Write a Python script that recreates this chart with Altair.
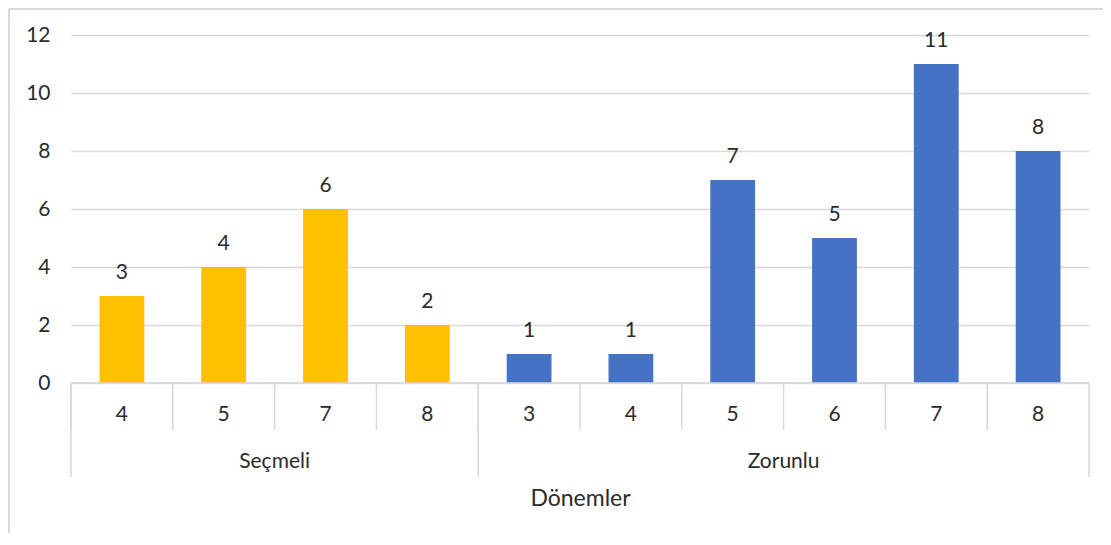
import altair as alt
import pandas as pd

groups = ["Seçmeli", "Seçmeli", "Seçmeli", "Seçmeli",
          "Zorunlu", "Zorunlu", "Zorunlu", "Zorunlu", "Zorunlu", "Zorunlu"]
terms = ["4", "5", "7", "8", "3", "4", "5", "6", "7", "8"]
counts = [3, 4, 6, 2, 1, 1, 7, 5, 11, 8]
group_colors = {"Seçmeli": "#FFC000", "Zorunlu": "#4472C4"}
y_ticks = [0, 2, 4, 6, 8, 10, 12]

keys = [f"{g}|{t}" for g, t in zip(groups, terms)]
df = pd.DataFrame({"group": groups, "term": terms, "count": counts, "key": keys})

# group starts / middles / end
group_order = list(dict.fromkeys(groups))
starts, mids = [], []
for g in group_order:
    gk = [k for k, gg in zip(keys, groups) if gg == g]
    starts.append(gk[0])
    mids.append({"group": g, "key": gk[len(gk) // 2]})
starts_df = pd.DataFrame({"key": starts})
mids_df = pd.DataFrame(mids)
end_df = pd.DataFrame({"key": [keys[-1]]})

W, H = 1018, 348
FONT = "Lato"
TXT = "#2b2b2b"
GRID = "#D9D9D9"

xscale = alt.Scale(domain=keys, paddingInner=0, paddingOuter=0)
yscale = alt.Scale(domain=[0, 12])

bars = alt.Chart(df).mark_bar(width=alt.RelativeBandSize(0.44)).encode(
    x=alt.X("key:N", scale=xscale, sort=keys,
            axis=alt.Axis(labels=False, ticks=False, domain=False, title="Dönemler",
                          titleY=115, titleBaseline="middle", titleFont=FONT,
                          titleFontSize=23, titleFontWeight="normal", titleColor=TXT)),
    y=alt.Y("count:Q", scale=yscale,
            axis=alt.Axis(values=y_ticks, title=None, domain=False, ticks=False,
                          gridColor=GRID, gridWidth=1.5, labelFont=FONT,
                          labelFontSize=21, labelColor=TXT, labelPadding=21)),
    color=alt.Color("group:N", scale=alt.Scale(domain=list(group_colors.keys()),
                                               range=list(group_colors.values())),
                    legend=None),
)

labels = alt.Chart(df).mark_text(font=FONT, fontSize=21, color=TXT,
                                 baseline="alphabetic", dy=-17).encode(
    x=alt.X("key:N", scale=xscale, sort=keys),
    y=alt.Y("count:Q", scale=yscale),
    text="count:Q",
)

tick_rules = alt.Chart(df).mark_rule(color=GRID, strokeWidth=1.5).encode(
    x=alt.X("key:N", scale=xscale, sort=keys, bandPosition=0),
    y=alt.value(H), y2=alt.value(H + 47),
)
group_rules = alt.Chart(starts_df).mark_rule(color=GRID, strokeWidth=1.5).encode(
    x=alt.X("key:N", scale=xscale, sort=keys, bandPosition=0),
    y=alt.value(H), y2=alt.value(H + 94),
)
end_rule = alt.Chart(end_df).mark_rule(color=GRID, strokeWidth=1.5).encode(
    x=alt.X("key:N", scale=xscale, sort=keys, bandPosition=1),
    y=alt.value(H), y2=alt.value(H + 94),
)
base_rule = alt.Chart(end_df).mark_rule(color=GRID, strokeWidth=1.5).encode(
    x=alt.value(0), x2=alt.value(W), y=alt.value(H),
)

term_labels = alt.Chart(df).mark_text(font=FONT, fontSize=21, color=TXT,
                                      baseline="middle").encode(
    x=alt.X("key:N", scale=xscale, sort=keys),
    y=alt.value(380),
    text="term:N",
)
group_labels = alt.Chart(mids_df).mark_text(font=FONT, fontSize=21, color=TXT,
                                            baseline="middle").encode(
    x=alt.X("key:N", scale=xscale, sort=keys, bandPosition=0),
    y=alt.value(427),
    text="group:N",
)

border_top = alt.Chart(end_df).mark_rule(color=GRID, strokeWidth=2).encode(
    x=alt.value(-62), x2=alt.value(W + 40), y=alt.value(-26),
)
border_left = alt.Chart(end_df).mark_rule(color=GRID, strokeWidth=2).encode(
    x=alt.value(-62), y=alt.value(-26), y2=alt.value(H + 200),
)

chart = alt.layer(
    border_top, border_left, bars, base_rule, labels, tick_rules, group_rules,
    end_rule, term_labels, group_labels,
).properties(
    width=W, height=H,
    autosize=alt.AutoSizeParams(type="none"),
    padding={"left": 63, "top": 27, "right": 14, "bottom": 150},
).configure_view(stroke=None)

chart.save("out.html", embed_options={"renderer": "svg", "actions": False})
